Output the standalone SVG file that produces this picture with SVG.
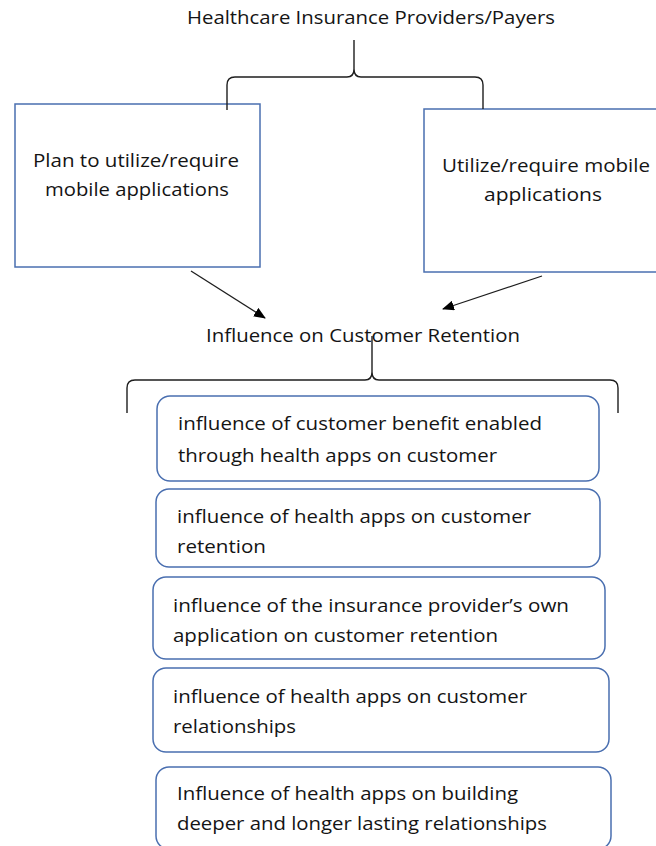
<svg xmlns="http://www.w3.org/2000/svg" width="656" height="846" viewBox="0 0 656 846">
  <style>
    text { font-family: "Open Sans", "Noto Sans", "Liberation Sans", sans-serif; fill: #141414; font-size: 17.5px; }
    .box { fill: #ffffff; stroke: #4a6fb0; stroke-width: 1.5; }
    .brace { fill: none; stroke: #1e1e1e; stroke-width: 1.4; }
    .arrow { fill: none; stroke: #1e1e1e; stroke-width: 1.3; marker-end: url(#head); }
  </style>
  <defs>
    <marker id="head" viewBox="0 0 12 10" refX="11" refY="5" markerWidth="12" markerHeight="10" markerUnits="userSpaceOnUse" orient="auto">
      <path d="M0,0 L12,5 L0,10 Z" fill="#000000"/>
    </marker>
  </defs>
  <rect width="656" height="846" fill="#ffffff"/>

  <g id="title-payers">
    <text x="371" y="24" text-anchor="middle" textLength="368" lengthAdjust="spacingAndGlyphs">Healthcare Insurance Providers/Payers</text>
  </g>

  <g id="plan-box">
    <rect class="box" x="15" y="104" width="245" height="163"/>
    <text x="136" y="167" text-anchor="middle" textLength="206" lengthAdjust="spacingAndGlyphs">Plan to utilize/require</text>
    <text x="137" y="196" text-anchor="middle" textLength="184" lengthAdjust="spacingAndGlyphs">mobile applications</text>
  </g>

  <g id="utilize-box">
    <rect class="box" x="424" y="109" width="240" height="163"/>
    <text x="546" y="172" text-anchor="middle" textLength="208" lengthAdjust="spacingAndGlyphs">Utilize/require mobile</text>
    <text x="543" y="201" text-anchor="middle" textLength="118" lengthAdjust="spacingAndGlyphs">applications</text>
  </g>

  <g id="retention-label">
    <text x="363" y="342" text-anchor="middle" textLength="314" lengthAdjust="spacingAndGlyphs">Influence on Customer Retention</text>
  </g>

  <g id="connectors">
    <!-- brace under the payers heading -->
    <path class="brace" d="M227,110 V85 Q227,77 235,77 H347 Q354,77 354,69 V40 M354,69 Q354,77 361,77 H475 Q483,77 483,85 V109"/>
    <!-- arrows into the retention heading -->
    <path class="arrow" d="M191,271 L265,318"/>
    <path class="arrow" d="M542,276 L443,309"/>
    <!-- brace under the retention heading -->
    <path class="brace" d="M127,413 V388 Q127,380 135,380 H365 Q372,380 372,372 V336 M372,372 Q372,380 379,380 H610 Q618,380 618,388 V413"/>
  </g>

  <g id="item-benefit">
    <rect class="box" x="157" y="396" width="442" height="85" rx="13"/>
    <text x="178" y="430" textLength="364" lengthAdjust="spacingAndGlyphs">influence of customer benefit enabled</text>
    <text x="178" y="462" textLength="319" lengthAdjust="spacingAndGlyphs">through health apps on customer</text>
  </g>

  <g id="item-retention">
    <rect class="box" x="156" y="489" width="444" height="78" rx="13"/>
    <text x="177" y="523" textLength="354" lengthAdjust="spacingAndGlyphs">influence of health apps on customer</text>
    <text x="177" y="553" textLength="89" lengthAdjust="spacingAndGlyphs">retention</text>
  </g>

  <g id="item-own-app">
    <rect class="box" x="153" y="577" width="452" height="82" rx="13"/>
    <text x="173" y="612" textLength="396" lengthAdjust="spacingAndGlyphs">influence of the insurance provider’s own</text>
    <text x="173" y="642" textLength="325" lengthAdjust="spacingAndGlyphs">application on customer retention</text>
  </g>

  <g id="item-relationships">
    <rect class="box" x="153" y="668" width="456" height="84" rx="13"/>
    <text x="173" y="703" textLength="354" lengthAdjust="spacingAndGlyphs">influence of health apps on customer</text>
    <text x="173" y="733" textLength="123" lengthAdjust="spacingAndGlyphs">relationships</text>
  </g>

  <g id="item-deeper">
    <rect class="box" x="156" y="767" width="455" height="82" rx="13"/>
    <text x="177" y="800" textLength="341" lengthAdjust="spacingAndGlyphs">Influence of health apps on building</text>
    <text x="177" y="830" textLength="370" lengthAdjust="spacingAndGlyphs">deeper and longer lasting relationships</text>
  </g>
</svg>
